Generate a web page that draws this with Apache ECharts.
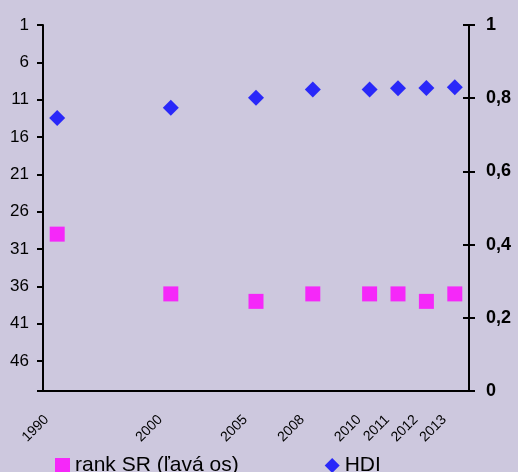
<!DOCTYPE html>
<html>
<head>
<meta charset="utf-8">
<script src="https://cdn.jsdelivr.net/npm/echarts@6/dist/echarts.min.js"></script>
<style>
  html, body { margin: 0; padding: 0; background: #CDC8DE; }
  #chart { width: 518px; height: 472px; }
</style>
</head>
<body>
<div id="chart"></div>
<script>
// category slots (blank slots keep the uneven spacing of the original)
var years = ['1990', '', '', '', '2000', '', '', '2005', '', '2008', '', '2010', '2011', '2012', '2013'];
var rankSR = [29, null, null, null, 37, null, null, 38, null, 37, null, 37, 37, 38, 37];
var hdi = [0.746, null, null, null, 0.774, null, null, 0.801, null, 0.824, null, 0.824, 0.827, 0.828, 0.830];

var myChart = echarts.init(document.getElementById('chart'));

var font = 'Arial, "Liberation Sans", sans-serif';

var option = {
    backgroundColor: '#CDC8DE',
    animation: false,
    textStyle: { fontFamily: font, color: '#000' },
    grid: {
        left: 43,
        right: 49,
        top: 25,
        bottom: 81
    },
    legend: {
        left: 50,
        top: 450,
        itemWidth: 15,
        itemHeight: 15,
        itemGap: 86,
        textStyle: { fontSize: 21, color: '#000' },
        data: ['rank SR (ľavá os)', 'HDI']
    },
    xAxis: {
        type: 'category',
        data: years,
        boundaryGap: true,
        axisLine: { lineStyle: { color: '#000', width: 2 } },
        axisTick: { show: false },
        axisLabel: {
            interval: 0,
            rotate: 45,
            fontSize: 14,
            color: '#000',
            margin: 16,
            padding: [0, 15, 0, 0]
        },
        splitLine: { show: false }
    },
    yAxis: [{
        type: 'value',
        inverse: true,
        min: 1,
        max: 50,
        interval: 5,
        position: 'left',
        axisLine: { show: true, lineStyle: { color: '#000', width: 2 } },
        axisTick: { show: true, length: 6, lineStyle: { color: '#000', width: 2 } },
        axisLabel: {
            fontSize: 17,
            color: '#000',
            margin: 14,
            formatter: function (v) { return v === 50 ? '' : v; }
        },
        splitLine: { show: false }
    }, {
        type: 'value',
        min: 0,
        max: 1,
        interval: 0.2,
        position: 'right',
        axisLine: { show: true, lineStyle: { color: '#000', width: 2 } },
        axisTick: { show: true, length: 6, lineStyle: { color: '#000', width: 2 } },
        axisLabel: {
            fontSize: 18,
            fontWeight: 'bold',
            color: '#000',
            margin: 17,
            formatter: function (v) { return String(v).replace('.', ','); }
        },
        splitLine: { show: false }
    }, {
        // inner half of the crossing ticks on the right axis
        type: 'value',
        min: 0,
        max: 1,
        interval: 0.2,
        position: 'right',
        axisLine: { show: false },
        axisTick: { show: true, inside: true, length: 6, lineStyle: { color: '#000', width: 2 } },
        axisLabel: { show: false },
        splitLine: { show: false }
    }],
    series: [{
        name: 'rank SR (ľavá os)',
        type: 'scatter',
        yAxisIndex: 0,
        symbol: 'rect',
        symbolSize: 15,
        itemStyle: { color: '#FF00FF' },
        data: rankSR
    }, {
        name: 'HDI',
        type: 'scatter',
        yAxisIndex: 1,
        symbol: 'diamond',
        symbolSize: 16,
        itemStyle: { color: '#0000FF' },
        data: hdi
    }]
};

myChart.setOption(option);
</script>
</body>
</html>
